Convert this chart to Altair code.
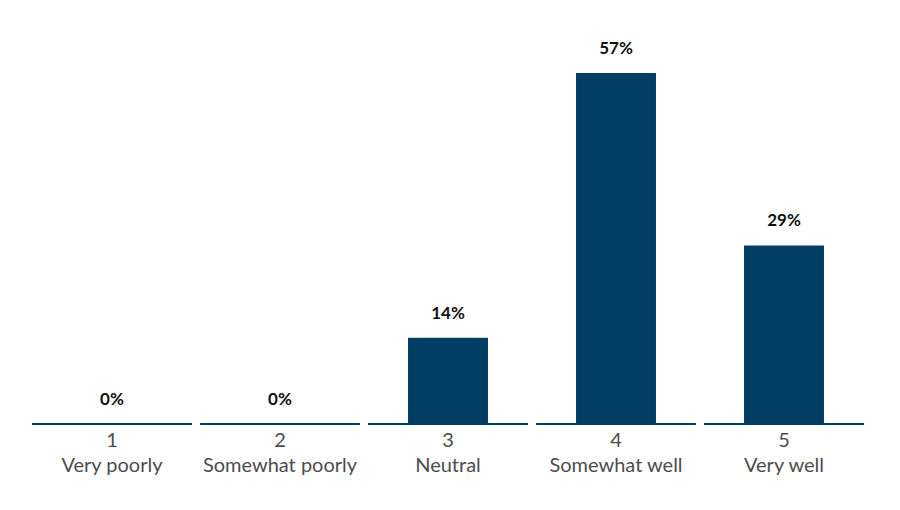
import altair as alt
import pandas as pd

codes = ["1", "2", "3", "4", "5"]
names = ["Very poorly", "Somewhat poorly", "Neutral", "Somewhat well", "Very well"]
values = [0, 0, 14, 57, 29]

df = pd.DataFrame({
    "cat": [f"{c}|{n}" for c, n in zip(codes, names)],
    "value": values,
    "label": [f"{v}%" for v in values],
})

BAR = "#023d63"
order = list(df["cat"])

x = alt.X(
    "cat:N",
    sort=order,
    scale=alt.Scale(paddingInner=0, paddingOuter=0),
    axis=alt.Axis(
        title=None, domain=False, ticks=False, labelAngle=0,
        labelExpr="split(datum.label, '|')",
        labelFont="Lato", labelFontSize=20, labelColor="#4d4d4d",
        labelLineHeight=25, labelPadding=6, labelBaseline="top",
    ),
)
yscale = alt.Scale(domain=[0, 57], nice=False)
y = alt.Y("value:Q", scale=yscale, axis=None)

base = alt.Chart(df)

bars = base.mark_bar(color=BAR, width=alt.RelativeBandSize(0.476)).encode(x=x, y=y)
baseline = (
    base.transform_calculate(zero="0")
    .mark_tick(color=BAR, thickness=2, size=160, orient="horizontal", opacity=1)
    .encode(x=x, y=alt.Y("zero:Q", scale=yscale, axis=None))
)
text = base.mark_text(
    dy=-24, baseline="middle", align="center", font="Lato", fontSize=17,
    fontWeight="bold", color="#111111",
).encode(x=x, y=y, text="label:N")

chart = (
    alt.layer(bars, baseline, text)
    .properties(
        width=840, height=351,
        padding={"left": 20, "top": 65, "right": 20, "bottom": 78},
        autosize=alt.AutoSizeParams(type="none"),
    )
    .configure(background="white")
    .configure_view(strokeWidth=0, stroke="transparent")
)

chart.save("out.html", embed_options={"renderer": "svg", "actions": False})
